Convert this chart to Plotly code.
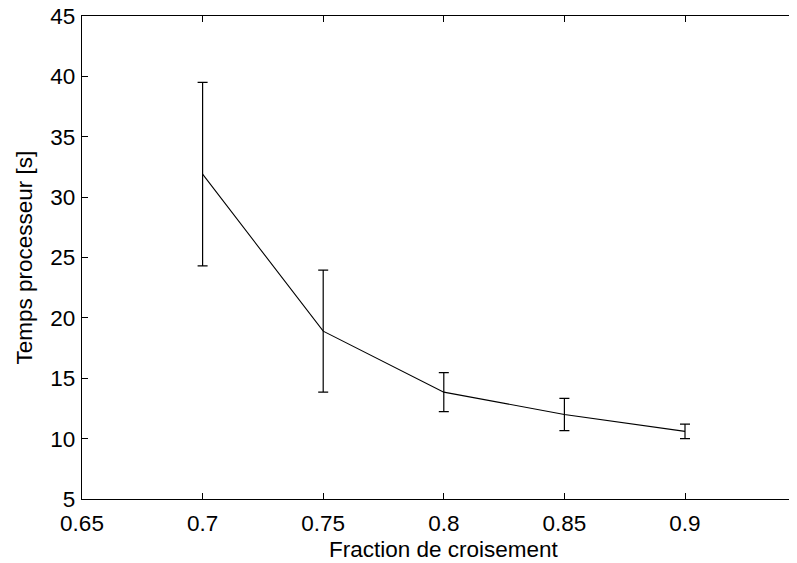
import plotly.graph_objects as go

fraction = [0.70, 0.75, 0.80, 0.85, 0.90]
temps_moyen = [31.9, 18.9, 13.85, 12.0, 10.6]
temps_err = [7.6, 5.05, 1.62, 1.33, 0.6]
x_ticks = [0.65, 0.7, 0.75, 0.8, 0.85, 0.9]
x_tick_labels = ["0.65", "0.7", "0.75", "0.8", "0.85", "0.9"]
y_ticks = [5, 10, 15, 20, 25, 30, 35, 40, 45]

# page body adds an 8px offset; compensate
OFF = 8
W, H = 797 - OFF, 563 - OFF
ML, MR, MT, MB = 82 - OFF, 0, 16 - OFF, 64
PX_PER_UNIT = 2412.0

fig = go.Figure()
fig.add_trace(go.Scatter(
    x=fraction, y=temps_moyen, mode="lines",
    line=dict(color="black", width=1.1),
    error_y=dict(type="data", array=temps_err, visible=True,
                 color="black", thickness=1.2, width=5),
    showlegend=False,
))

font = dict(family="Liberation Sans, Arial, sans-serif", size=22.5, color="black")

plot_w = W - ML - MR
fig.update_layout(
    width=W, height=H,
    margin=dict(l=ML, r=MR, t=MT, b=MB, pad=0),
    plot_bgcolor="white", paper_bgcolor="white",
    font=font,
    xaxis=dict(
        range=[0.65, 0.65 + plot_w / PX_PER_UNIT],
        tickvals=x_ticks, ticktext=x_tick_labels,
        ticks="inside", ticklen=6, tickcolor="black", tickwidth=1,
        showline=True, linecolor="black", linewidth=1.3,
        mirror="ticks", showgrid=False, zeroline=False,
        tickfont=font, ticklabelstandoff=4, automargin=False,
        ticklabeloverflow="allow",
    ),
    yaxis=dict(
        range=[5, 45],
        tickvals=y_ticks,
        ticks="inside", ticklen=6, tickcolor="black", tickwidth=1,
        showline=True, linecolor="black", linewidth=1.3,
        mirror=False, showgrid=False, zeroline=False,
        tickfont=font, automargin=False, ticklabelstandoff=1,
        ticklabeloverflow="allow",
    ),
    annotations=[
        dict(
            text="Fraction de croisement", xref="paper", yref="paper",
            x=(0.80 - 0.65) * PX_PER_UNIT / plot_w, y=0, yshift=-36,
            xanchor="center", yanchor="top", showarrow=False, font=font,
        ),
        dict(
            text="Temps processeur [s]", xref="paper", yref="paper",
            x=0, y=0.5, xshift=-58, textangle=-90,
            xanchor="center", yanchor="middle", showarrow=False, font=font,
        ),
    ],
)

fig.write_html("out.html")
